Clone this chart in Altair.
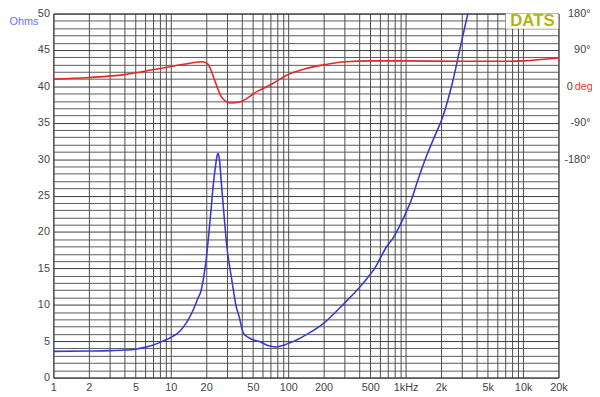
import altair as alt
import pandas as pd

# Impedance (Ohms) vs frequency (Hz)
freq_z = [1, 2, 3, 4, 5, 6, 7, 8, 9, 10, 12, 13, 14, 15, 16, 17, 18, 19, 20, 21, 22, 23, 24,
          24.8, 25.3, 26, 27, 28.3, 30, 31.5, 33, 36, 38, 41.5, 44, 47, 50, 57, 67, 79, 90,
          100, 112, 150, 200, 300, 400, 500, 550, 620, 690, 783, 900, 1014, 1117, 1268,
          1493, 1750, 2056, 2500, 2938, 3384, 3600]
ohms_z = [3.6, 3.65, 3.7, 3.78, 3.9, 4.15, 4.45, 4.8, 5.15, 5.5, 6.4, 7.1, 7.9, 8.8, 9.8,
          10.9, 11.8, 13.7, 16.2, 19.5, 23.0, 26.5, 29.0, 30.5, 30.8, 29.8, 26.5, 22.6, 18.0,
          15.5, 13.5, 9.8, 8.5, 6.1, 5.7, 5.4, 5.2, 4.95, 4.4, 4.2, 4.4, 4.7, 5.0, 6.1, 7.45,
          10.2, 12.3, 14.2, 15.1, 16.7, 18.0, 19.2, 21.0, 22.8, 24.4, 27.1, 30.3, 33.0, 35.7,
          40.5, 45.6, 50.0, 52.0]

# Phase (degrees) vs frequency (Hz)
freq_p = [1, 2, 4, 7, 10, 15, 18.6, 20.5, 22, 23.3, 26.5, 29, 32, 39, 54, 74, 96, 142, 208,
          307, 500, 1000, 3000, 7000, 10000, 15000, 20000]
phase_deg = [18, 22, 29, 41, 49, 58, 61, 56, 40, 20, -22, -36, -41, -38, -13, 7, 27, 44, 54,
             61, 63, 63, 62, 62, 63, 67, 70]

x_ticks = [1, 2, 3, 4, 5, 6, 7, 8, 9, 10, 20, 30, 40, 50, 60, 70, 80, 90,
           100, 200, 300, 400, 500, 600, 700, 800, 900,
           1000, 2000, 3000, 4000, 5000, 6000, 7000, 8000, 9000, 10000, 20000]
x_labels = {1: "1", 2: "2", 5: "5", 10: "10", 20: "20", 50: "50", 100: "100", 200: "200",
            500: "500", 1000: "1kHz", 2000: "2k", 5000: "5k", 10000: "10k", 20000: "20k"}
phase_ticks = [-180, -90, 0, 90, 180]

# logo box
logo_x = [7100]
logo_x2 = [20000]
logo_y = [47.9]
logo_y2 = [50]

df_z = pd.DataFrame({"f": freq_z, "ohm": ohms_z})
df_p = pd.DataFrame({"f": freq_p, "deg": phase_deg})
df_logo = pd.DataFrame({"f": logo_x, "x2": logo_x2, "ohm": logo_y, "y2": logo_y2,
                        "tx": [12000], "ty": [48.95], "label": ["DATS"]})

label_expr = " : ".join(
    [f"datum.value == {k} ? '{v}'" for k, v in x_labels.items()]) + " : ''"

FONT = "Liberation Sans"
LBL = "#444444"

x_scale = alt.Scale(type="log", domain=[1, 20000], nice=False)
x_axis = alt.Axis(values=x_ticks, labelExpr=label_expr, title=None, ticks=False,
                  labelOverlap=False, labelFlush=False, labelPadding=4,
                  grid=True, gridColor="#4a4a4a", gridWidth=1, domain=False,
                  labelFont=FONT, labelFontSize=11, labelColor=LBL)

y_axis = alt.Axis(values=list(range(0, 51)),
                  labelExpr="datum.value % 5 == 0 ? datum.value : ''",
                  ticks=False, labelPadding=4, domain=False, grid=True,
                  gridColor={"condition": {"test": "datum.value % 5 == 0", "value": "#3a3a3a"},
                             "value": "#5a5a5a"},
                  gridWidth=1, labelFont=FONT, labelFontSize=11, labelColor=LBL,
                  labelOverlap=False,
                  title="Ohms", titleAngle=0, titleAlign="left", titleBaseline="middle",
                  titleX=-45, titleY=8, titleColor="#6b6bff", titleFont=FONT,
                  titleFontSize=11, titleFontWeight="normal")

y_scale = alt.Scale(domain=[0, 50], nice=False, zero=False)

imp = alt.Chart(df_z).mark_line(color="#3a3acc", strokeWidth=1.6, clip=True,
                                interpolate="monotone").encode(
    x=alt.X("f:Q", scale=x_scale, axis=x_axis),
    y=alt.Y("ohm:Q", scale=y_scale, axis=y_axis),
    order="f:Q",
)

logo_box = alt.Chart(df_logo).mark_rect(color="white").encode(
    x=alt.X("f:Q", scale=x_scale, axis=x_axis), x2="x2:Q",
    y=alt.Y("ohm:Q", scale=y_scale, axis=y_axis), y2="y2:Q",
)
logo_text = alt.Chart(df_logo).mark_text(
    font=FONT, fontSize=17, fontWeight="bold", color="#b5b314", baseline="middle"
).encode(
    x=alt.X("tx:Q", scale=x_scale, axis=x_axis),
    y=alt.Y("ty:Q", scale=y_scale, axis=y_axis),
    text="label:N",
)

left = alt.layer(logo_box, imp, logo_text)

phase_axis = alt.Axis(values=phase_ticks, orient="right", grid=False, ticks=False,
                      domain=False,
                      labelExpr="datum.value == 0 ? '0' : datum.value + '°'",
                      labelAlign={"condition": {"test": "datum.value == 0", "value": "left"},
                                  "value": "right"},
                      labelPadding={"condition": {"test": "datum.value == 0", "value": 8},
                                    "value": 32},
                      labelFont=FONT, labelFontSize=11, labelColor=LBL,
                      title="deg", titleAngle=0, titleAlign="left", titleBaseline="middle",
                      titleX=16, titleY=73.8, titleColor="#ee3333", titleFont=FONT,
                      titleFontSize=11, titleFontWeight="normal")

phase = alt.Chart(df_p).mark_line(color="#e02a2a", strokeWidth=1.6,
                                  interpolate="monotone").encode(
    x=alt.X("f:Q", scale=x_scale, axis=x_axis),
    y=alt.Y("deg:Q", scale=alt.Scale(domain=[-720, 180], nice=False, zero=False),
            axis=phase_axis),
    order="f:Q",
)

chart = alt.layer(left, phase).resolve_scale(y="independent").properties(
    width=512, height=369,
    autosize=alt.AutoSizeParams(type="none"),
    padding={"left": 46, "top": 3, "right": 34, "bottom": 14},
    background="white",
).configure_view(stroke="#333333", strokeWidth=1)

chart.save("out.html", embed_options={"renderer": "svg", "actions": False})
